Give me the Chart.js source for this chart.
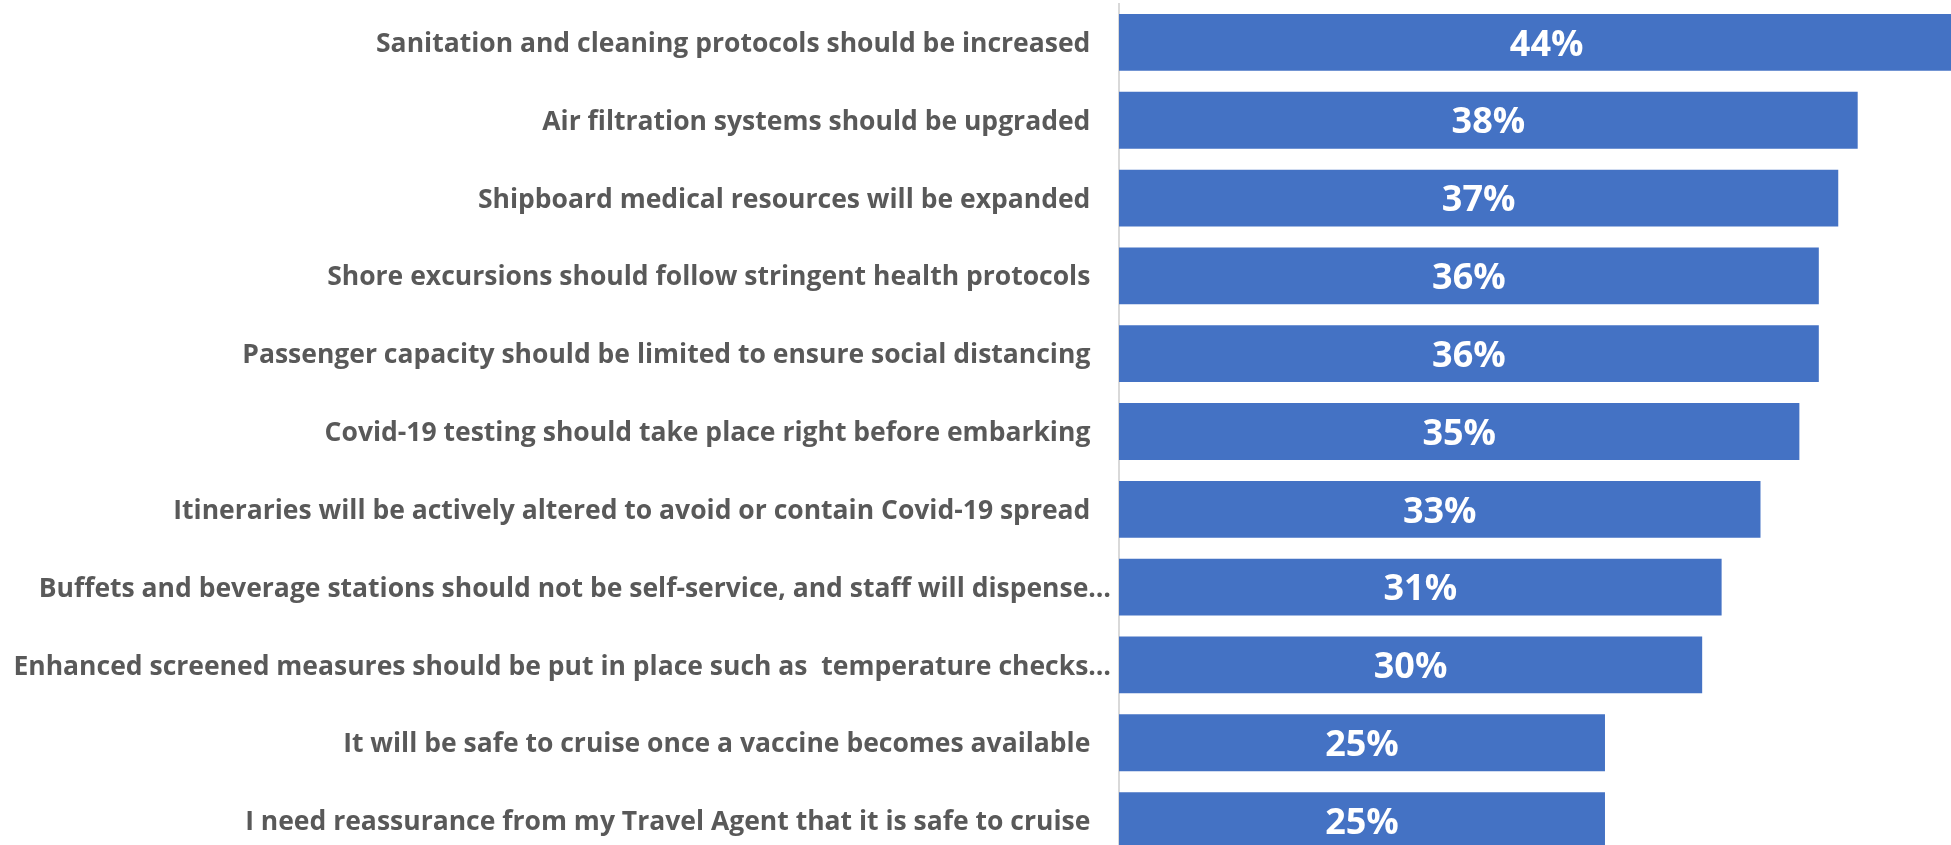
<!DOCTYPE html>
<html>
<head>
<meta charset="utf-8">
<script src="https://cdn.jsdelivr.net/npm/chart.js@4.4.1/dist/chart.umd.min.js"></script>
<style>
  html, body { margin: 0; padding: 0; background: #fff; overflow: hidden; }
  #wrap { width: 1951px; height: 860px; position: relative; }
</style>
</head>
<body>
<div id="wrap"><canvas id="myChart"></canvas></div>
<script>
// categories, top to bottom
const categories = [
  'Sanitation and cleaning protocols should be increased',
  'Air filtration systems should be upgraded',
  'Shipboard medical resources will be expanded',
  'Shore excursions should follow stringent health protocols',
  'Passenger capacity should be limited to ensure social distancing',
  'Covid-19 testing should take place right before embarking',
  'Itineraries will be actively altered to avoid or contain Covid-19 spread',
  'Buffets and beverage stations should not be self-service, and staff will dispense…',
  'Enhanced screened measures should be put in place such as  temperature checks…',
  'It will be safe to cruise once a vaccine becomes available',
  'I need reassurance from my Travel Agent that it is safe to cruise'
];

// percent of respondents
const shares = [44, 38, 37, 36, 36, 35, 33, 31, 30, 25, 25];

// value labels inside the bars
const valueLabels = {
  id: 'valueLabels',
  afterDatasetsDraw(chart) {
    const ctx = chart.ctx;
    const meta = chart.getDatasetMeta(0);
    ctx.save();
    ctx.fillStyle = '#ffffff';
    ctx.font = 'bold 36px "Open Sans"';
    ctx.textAlign = 'center';
    ctx.textBaseline = 'middle';
    meta.data.forEach((bar, i) => {
      ctx.fillText(shares[i] + '%', (bar.x + bar.base) / 2, bar.y + 3);
    });
    ctx.restore();
  }
};

const ctx = document.getElementById('myChart');
new Chart(ctx, {
  type: 'bar',
  data: {
    labels: categories,
    datasets: [{
      data: shares,
      backgroundColor: '#4472C4',
      borderWidth: 0,
      barPercentage: 0.73,
      categoryPercentage: 1
    }]
  },
  options: {
    indexAxis: 'y',
    responsive: true,
    maintainAspectRatio: false,
    animation: false,
    layout: { padding: { top: 3.5, bottom: 0.5, left: 0, right: 0 } },
    plugins: {
      legend: { display: false },
      tooltip: { enabled: false }
    },
    scales: {
      x: {
        display: false,
        min: 0,
        max: 42.8
      },
      y: {
        afterFit(scale) {
          scale.width = 1119;
          scale.paddingTop = 0;
          scale.paddingBottom = 0;
        },
        grid: { display: false, drawTicks: false },
        border: { display: true, color: '#d9d9d9', width: 2 },
        ticks: {
          color: '#595959',
          padding: 8,
          labelOffset: 2,
          font: { family: '"Open Sans"', weight: 'bold', size: 26.5 },
          callback(value) {
            const t = categories[value];
            return t.endsWith('…') ? t : t + '\u00a0\u00a0\u00a0';
          }
        }
      }
    }
  },
  plugins: [valueLabels]
});
</script>
</body>
</html>
